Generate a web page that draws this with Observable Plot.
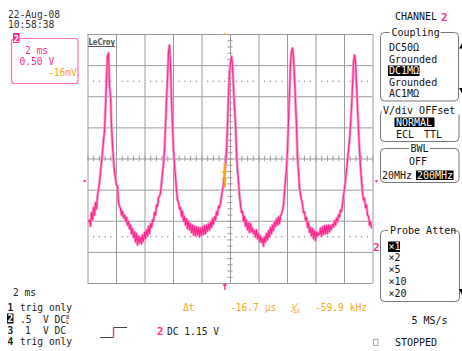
<!DOCTYPE html>
<html><head><meta charset="utf-8">
<script src="https://cdn.jsdelivr.net/npm/d3@7"></script>
<script src="https://cdn.jsdelivr.net/npm/@observablehq/plot@0.6"></script>
<style>
html,body{margin:0;padding:0;background:#fff;}
#wrap{position:relative;width:462px;height:351px;overflow:hidden;background:#fff;}
#wrap svg{position:absolute;left:0;top:0;}
#ui text{font-family:"DejaVu Sans Mono",monospace;}
</style></head>
<body><div id="wrap"></div>
<script>
// ---- data (channel 2 trace, display points) ----
const sampleStartMs = -9.965;          // time of first display point (ms)
const sampleStepMs = 0.07018;          // display point spacing (ms)
const voltsCh2 = [
  0.50,0.52,
  0.42,0.64,0.52,0.72,0.60,0.80,0.70,0.90,1.00,1.13,
  1.29,1.45,1.61,1.80,1.95,2.32,2.80,3.15,3.20,2.68,
  2.51,2.04,1.72,1.48,1.29,1.19,1.08,1.06,0.80,0.74,
  0.70,0.60,0.66,0.56,0.60,0.50,0.56,0.44,0.50,0.38,
  0.44,0.30,0.38,0.24,0.33,0.17,0.30,0.12,0.26,0.15,
  0.24,0.14,0.28,0.18,0.32,0.22,0.36,0.26,0.42,0.30,
  0.46,0.40,0.52,0.50,0.64,0.60,0.76,0.74,0.88,0.90,
  0.96,1.11,1.27,1.43,1.64,2.04,2.44,2.80,3.22,3.33,
  3.01,2.44,2.04,1.64,1.40,1.22,1.00,0.84,0.80,0.70,
  0.72,0.58,0.66,0.50,0.58,0.44,0.54,0.38,0.50,0.36,
  0.46,0.32,0.44,0.28,0.42,0.27,0.41,0.28,0.40,0.25,
  0.39,0.27,0.41,0.29,0.43,0.30,0.44,0.34,0.46,0.36,
  0.49,0.40,0.54,0.45,0.57,0.52,0.65,0.60,0.74,0.72,
  0.80,0.90,1.00,1.11,1.24,1.40,1.64,2.04,2.52,2.89,
  3.05,3.15,3.01,2.64,2.32,2.04,1.61,1.32,1.13,0.92,
  0.76,0.64,0.66,0.50,0.58,0.42,0.52,0.36,0.47,0.32,
  0.46,0.33,0.39,0.30,0.35,0.25,0.36,0.22,0.30,0.17,
  0.26,0.16,0.22,0.10,0.25,0.17,0.30,0.20,0.35,0.25,
  0.40,0.30,0.44,0.35,0.49,0.42,0.54,0.44,0.57,0.46,
  0.59,0.61,0.68,0.76,0.96,1.16,1.35,1.64,2.15,2.57,
  3.05,3.22,3.28,3.12,2.80,2.41,2.04,1.51,1.29,1.03,
  0.93,0.84,0.77,0.64,0.65,0.52,0.56,0.40,0.48,0.32,
  0.40,0.27,0.38,0.22,0.35,0.19,0.33,0.26,0.31,0.29,
  0.39,0.26,0.41,0.29,0.43,0.30,0.43,0.30,0.44,0.33,
  0.43,0.37,0.45,0.41,0.51,0.44,0.55,0.49,0.60,0.57,
  0.68,0.66,0.77,0.90,1.03,1.16,1.32,1.48,1.64,1.80,
  2.04,2.32,2.68,3.05,3.17,3.05,2.68,2.32,1.96,1.64,
  1.37,1.16,0.96,0.84,0.87,0.72,0.76,0.60,0.58,0.44,
  0.49,0.40
];
const timeDivMs = [-10,-8,-6,-4,-2,0,2,4,6,8,10];          // 2 ms/div
const voltDivV = [-0.5,0,0.5,1,1.5,2,2.5,3,3.5];            // 0.5 V/div
const centerTimeMs = [0];
const centerLevelV = [1.5];
const markerLevelsV = [2.75, 0.25];                          // dotted reference levels
const triggerTimeMs = [-0.4];
const triggerLevelV = [1.15];
const groundLevelV = [0];
const cursorTimeMs = [-0.4];
const cursorLevelsV = [1.29, 1.18];

const PINK = "#ff2a90", ORANGE = "#f6a623", GRID = "#9a9a9a";

const trace = voltsCh2.map((v, i) => ({t: sampleStartMs + i * sampleStepMs, v}));
const minorT = d3.range(-10, 10.001, 0.4).map(d => +d.toFixed(2));
const minorV = d3.range(-0.5, 3.501, 0.1).map(d => +d.toFixed(2));
const dotted = markerLevelsV.flatMap(v =>
  minorT.filter(t => Math.abs(Math.round(t / 2) * 2 - t) > 0.01).map(t => ({t, v})));

const chart = Plot.plot({
  width: 462, height: 351,
  marginLeft: 87.5, marginRight: 89.5, marginTop: 34, marginBottom: 68,
  x: {domain: [-10, 10], axis: null},
  y: {domain: [-0.5, 3.5], axis: null},
  style: {background: "transparent", overflow: "visible", fontFamily: "DejaVu Sans Mono"},
  marks: [
    Plot.ruleX(timeDivMs, {stroke: GRID, strokeWidth: 1}),
    Plot.ruleY(voltDivV, {stroke: GRID, strokeWidth: 1}),
    Plot.ruleY(minorV, {x1: centerTimeMs[0] - 0.18, x2: centerTimeMs[0] + 0.18, stroke: GRID}),
    Plot.ruleX(minorT, {y1: centerLevelV[0] - 0.045, y2: centerLevelV[0] + 0.045, stroke: GRID}),
    Plot.dot(dotted, {x: "t", y: "v", r: 0.7, fill: "#8a8a8a"}),
    Plot.line(trace, {x: "t", y: "v", stroke: "#ff9fcd", strokeWidth: 2.8, strokeLinejoin: "round"}),
    Plot.line(trace, {x: "t", y: "v", stroke: PINK, strokeWidth: 1.2, strokeLinejoin: "round"}),
    // time cursor marks
    Plot.ruleX(cursorTimeMs, {y1: d3.min(cursorLevelsV) - 0.14, y2: d3.max(cursorLevelsV) + 0.14, stroke: ORANGE, strokeWidth: 2.5}),
    Plot.ruleY(cursorLevelsV, {x1: cursorTimeMs[0] - 0.2, x2: cursorTimeMs[0] + 0.2, stroke: ORANGE, strokeWidth: 1.2}),
    Plot.text(cursorTimeMs, {x: d => d, frameAnchor: "top", dy: -3, text: () => "▾", fill: ORANGE, fontSize: 6}),
    // trigger markers
    Plot.text(triggerTimeMs, {x: d => d, frameAnchor: "bottom", dy: 6, text: () => "↑", fill: PINK, fontSize: 12, fontWeight: "bold"}),
    Plot.text(triggerLevelV, {y: d => d, frameAnchor: "left", textAnchor: "end", dx: -0.5, text: () => "▸", fill: PINK, fontSize: 8}),
    Plot.text(triggerLevelV, {y: d => d, frameAnchor: "right", textAnchor: "start", dx: 0.5, text: () => "◂", fill: PINK, fontSize: 8}),
    Plot.text(groundLevelV, {y: d => d, frameAnchor: "right", textAnchor: "start", dx: 0, dy: -5, text: () => "2", fill: PINK, fontSize: 11, fontWeight: "bold"})
  ]
});
const wrap = document.getElementById("wrap");
wrap.appendChild(chart);

// ---- instrument panel texts ----
const ui = `
<svg id="ui" width="462" height="351" xmlns="http://www.w3.org/2000/svg" font-size="9.6">
  <g fill="#333">
    <text x="8" y="17.5">22-Aug-08</text>
    <text x="8" y="28">10:58:38</text>
  </g>
  <rect x="11.5" y="38.5" width="66.5" height="45" rx="3" fill="none" stroke="#ff6fb5" stroke-width="1.2"/>
  <rect x="13" y="33" width="6.5" height="10" fill="${PINK}"/>
  <text x="13.6" y="41.6" fill="#fff" font-size="9" font-weight="bold">2</text>
  <text x="25" y="53.5" fill="${PINK}">2 ms</text>
  <text x="19.5" y="64.5" fill="${PINK}">0.50 V</text>
  <text x="48" y="75.5" fill="${ORANGE}">-16mV</text>

  <text x="88.5" y="44.5" fill="#555" font-size="9" font-weight="bold" textLength="26.5" lengthAdjust="spacingAndGlyphs" style="font-family:'DejaVu Sans'">LeCroy</text>
  <line x1="88" y1="46.5" x2="115" y2="46.5" stroke="#555" stroke-width="1"/>

  <g font-size="10" fill="#111">
    <text x="395" y="20">CHANNEL</text>
    <text x="441" y="20.5" fill="${PINK}" font-weight="bold" font-size="11">2</text>

    <rect x="380.5" y="32.5" width="78" height="68.5" rx="4" fill="none" stroke="#777"/>
    <rect x="389.5" y="28" width="51" height="9" fill="#fff"/>
    <text x="391.5" y="36">Coupling</text>
    <text x="389" y="51">DC50Ω</text>
    <text x="389" y="62.5">Grounded</text>
    <rect x="388" y="65.5" width="31.5" height="10.5" fill="#000"/>
    <text x="389" y="74" fill="#fff">DC1MΩ</text>
    <text x="389" y="85.5">Grounded</text>
    <text x="389" y="97">AC1MΩ</text>
    <polygon points="459,48.5 462,48.5 462,43.5" fill="#000"/>
    <polygon points="459,88 462,88 462,93" fill="#000"/>

    <rect x="380.5" y="110.5" width="78.5" height="31" rx="4" fill="none" stroke="#777"/>
    <rect x="382" y="106" width="77" height="9" fill="#fff"/>
    <text x="383" y="114">V/div OFFset</text>
    <rect x="394.5" y="117.5" width="40" height="9.5" fill="#000"/>
    <text x="396" y="125.5" fill="#fff">NORMAL</text>
    <text x="396" y="137.5">ECL</text>
    <text x="424" y="137.5">TTL</text>

    <rect x="380.5" y="148.5" width="78.5" height="34" rx="4" fill="none" stroke="#777"/>
    <rect x="409" y="144" width="21" height="9" fill="#fff"/>
    <text x="419.5" y="152" text-anchor="middle">BWL</text>
    <text x="418" y="165" text-anchor="middle">OFF</text>
    <text x="382" y="178.5">20MHz</text>
    <rect x="416" y="170.5" width="37.5" height="9.5" fill="#000"/>
    <text x="417" y="178.5" fill="#fff">200MHz</text>

    <rect x="380.5" y="230.5" width="79" height="71" rx="4" fill="none" stroke="#777"/>
    <rect x="388" y="226" width="63" height="9" fill="#fff"/>
    <text x="390" y="234">Probe Atten</text>
    <rect x="388" y="241.5" width="12" height="10.5" fill="#000"/>
    <text x="388.5" y="250" fill="#fff">×1</text>
    <text x="388.5" y="261">×2</text>
    <text x="388.5" y="273">×5</text>
    <text x="388.5" y="284.5">×10</text>
    <text x="388.5" y="296.5">×20</text>
    <polygon points="459,289 462,289 462,295" fill="#000"/>

    <text x="411.5" y="323.5">5 MS/s</text>
    <text x="395" y="345.5">STOPPED</text>
  </g>
  <rect x="373.5" y="339.5" width="4.5" height="6" fill="none" stroke="#aaa"/>

  <g fill="#222">
    <text x="13" y="295.5">2 ms</text>
    <text x="7.5" y="311" font-weight="bold">1</text>
    <text x="20" y="311">trig only</text>
    <rect x="7" y="313.5" width="6.5" height="10" fill="#111"/>
    <text x="7.6" y="322.3" fill="#fff" font-weight="bold">2</text>
    <text x="20" y="322.5">.5</text>
    <text x="43" y="322.5">V</text>
    <text x="54.5" y="322.5">DC</text>
    <text x="66" y="318.5" font-size="5.5">B</text>
    <text x="66" y="323.5" font-size="5.5">L</text>
    <text x="7.5" y="334" font-weight="bold">3</text>
    <text x="25" y="334">1</text>
    <text x="43" y="334">V</text>
    <text x="54.5" y="334">DC</text>
    <text x="7.5" y="345" font-weight="bold">4</text>
    <text x="20" y="345">trig only</text>
  </g>
  <line x1="100" y1="337.5" x2="113.5" y2="337.5" stroke="#444"/>
  <line x1="113.5" y1="337.5" x2="113.5" y2="327.5" stroke="${PINK}" stroke-width="1.4"/>
  <line x1="113.5" y1="327.5" x2="127" y2="327.5" stroke="#444"/>
  <text x="157" y="334.5" fill="${PINK}" font-weight="bold" font-size="10.5">2</text>
  <text x="167" y="334.5" fill="#222">DC 1.15 V</text>

  <g fill="${ORANGE}">
    <text x="183" y="311">Δt</text>
    <text x="230" y="311">-16.7 µs</text>
    <text x="291" y="307.5" font-size="6">1</text>
    <line x1="291" y1="312" x2="298" y2="303" stroke="${ORANGE}" stroke-width="0.9"/>
    <text x="293.5" y="313" font-size="6">Δt</text>
    <text x="315" y="311">-59.9 kHz</text>
  </g>
</svg>`;
wrap.insertAdjacentHTML("beforeend", ui);
</script>
</body></html>
